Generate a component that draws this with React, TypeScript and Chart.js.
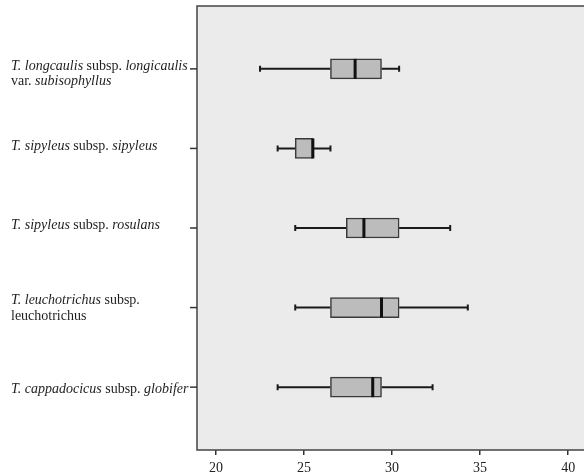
import { useEffect, useRef } from "react";
import { Chart, registerables } from "chart.js";

Chart.register(...registerables);

// ---- data ----
type Seg = [string, boolean]; // [text, italic]
const CATEGORY_LABELS: Seg[][][] = [
  [
    [["T. longcaulis", true], [" subsp. ", false], ["longicaulis", true]],
    [["var. ", false], ["subisophyllus", true]],
  ],
  [[["T. sipyleus", true], [" subsp. ", false], ["sipyleus", true]]],
  [[["T. sipyleus", true], [" subsp. ", false], ["rosulans", true]]],
  [
    [["T. leuchotrichus", true], [" subsp.", false]],
    [["leuchotrichus", false]],
  ],
  [[["T. cappadocicus", true], [" subsp. ", false], ["globifer", true]]],
];
const MINS = [22.5, 23.5, 24.5, 24.5, 23.5];
const Q1 = [26.5, 24.5, 27.4, 26.5, 26.5];
const MEDIANS = [27.9, 25.5, 28.4, 29.4, 28.9];
const Q3 = [29.4, 25.5, 30.4, 30.4, 29.4];
const MAXS = [30.4, 26.5, 33.3, 34.3, 32.3];
const X_TICKS = [20, 25, 30, 35, 40];

// ---- layout / style ----
const LABEL_DY = [-3, -2, -3, -7, 2];
const LINE_H = 15.5;
const FONT = "'Liberation Serif', 'Times New Roman', serif";

const boxPlugin = {
  id: "boxPlugin",
  beforeDraw(chart: any) {
    const { ctx, chartArea } = chart;
    ctx.save();
    ctx.fillStyle = "#ebebeb";
    ctx.fillRect(chartArea.left, chartArea.top, chartArea.right - chartArea.left, chartArea.bottom - chartArea.top);
    ctx.restore();
  },
  beforeDatasetsDraw(chart: any) {
    const { ctx } = chart;
    const xs = chart.scales.x;
    const ys = chart.scales.y;
    ctx.save();
    ctx.strokeStyle = "#1a1a1a";
    ctx.lineWidth = 2;
    for (let i = 0; i < MINS.length; i++) {
      const y = ys.getPixelForValue(i);
      const xMin = xs.getPixelForValue(MINS[i]);
      const xQ1 = xs.getPixelForValue(Q1[i]);
      const xQ3 = xs.getPixelForValue(Q3[i]);
      const xMax = xs.getPixelForValue(MAXS[i]);
      ctx.beginPath();
      ctx.moveTo(xMin, y);
      ctx.lineTo(xQ1, y);
      ctx.moveTo(xQ3, y);
      ctx.lineTo(xMax, y);
      ctx.moveTo(xMin, y - 3);
      ctx.lineTo(xMin, y + 3);
      ctx.moveTo(xMax, y - 3);
      ctx.lineTo(xMax, y + 3);
      ctx.stroke();
    }
    ctx.restore();
  },
  afterDatasetsDraw(chart: any) {
    const { ctx, chartArea } = chart;
    const xs = chart.scales.x;
    const ys = chart.scales.y;
    ctx.save();
    // medians
    ctx.strokeStyle = "#111";
    ctx.lineWidth = 3;
    for (let i = 0; i < MEDIANS.length; i++) {
      const y = ys.getPixelForValue(i);
      const x = xs.getPixelForValue(MEDIANS[i]);
      ctx.beginPath();
      ctx.moveTo(x, y - 10);
      ctx.lineTo(x, y + 10);
      ctx.stroke();
    }
    // frame (left, top, bottom)
    ctx.strokeStyle = "#444";
    ctx.lineWidth = 1.5;
    ctx.beginPath();
    ctx.moveTo(chartArea.right + 2, chartArea.top);
    ctx.lineTo(chartArea.left, chartArea.top);
    ctx.lineTo(chartArea.left, chartArea.bottom);
    ctx.lineTo(chartArea.right + 2, chartArea.bottom);
    ctx.stroke();
    // y ticks + labels
    ctx.strokeStyle = "#333";
    ctx.fillStyle = "#1e1e1e";
    ctx.textBaseline = "middle";
    for (let i = 0; i < CATEGORY_LABELS.length; i++) {
      const y = ys.getPixelForValue(i);
      ctx.beginPath();
      ctx.moveTo(chartArea.left - 7, y);
      ctx.lineTo(chartArea.left, y);
      ctx.stroke();
      const lines = CATEGORY_LABELS[i];
      lines.forEach((line, li) => {
        let x = 11;
        const ly = y + LABEL_DY[i] + li * LINE_H;
        line.forEach(([text, italic]) => {
          ctx.font = `${italic ? "italic " : ""}14px ${FONT}`;
          ctx.fillText(text, x, ly);
          x += ctx.measureText(text).width;
        });
      });
    }
    ctx.restore();
  },
};

export default function App() {
  const ref = useRef<HTMLCanvasElement | null>(null);
  useEffect(() => {
    if (!ref.current) return;
    const chart = new Chart(ref.current, {
      type: "bar",
      data: {
        datasets: [
          {
            data: Q1.map((q, i) => ({ x: [q, Q3[i]], y: i })) as any,
            backgroundColor: "#bcbcbc",
            borderColor: "#3a3a3a",
            borderWidth: 1.5,
            borderSkipped: false,
            barThickness: 20,
          },
        ],
      },
      options: {
        indexAxis: "y",
        animation: false,
        responsive: false,
        layout: { padding: { left: 197, top: 6, right: 0, bottom: 0 } },
        plugins: { legend: { display: false }, tooltip: { enabled: false } },
        scales: {
          x: {
            type: "linear",
            position: "bottom",
            offset: false,
            min: 18.92,
            max: 40.9,
            afterBuildTicks: (s: any) => {
              s.ticks = X_TICKS.map((v) => ({ value: v }));
            },
            afterFit: (s: any) => {
              s.height = 26;
            },
            grid: { drawOnChartArea: false, drawTicks: true, tickLength: 5, color: "#333", lineWidth: 1.5, offset: false },
            border: { display: false },
            ticks: { color: "#222", font: { family: FONT, size: 14 }, padding: 5, maxRotation: 0 },
          },
          y: {
            type: "linear",
            display: false,
            offset: false,
            grid: { offset: false },
            min: -0.79,
            max: 4.79,
            reverse: true,
          },
        },
      },
      plugins: [boxPlugin],
    });
    return () => chart.destroy();
  }, []);
  return (
    <div style={{ position: "absolute", left: 0, top: 0, width: 584, height: 476, background: "#fff" }}>
      <canvas ref={ref} width={584} height={476} style={{ display: "block" }} />
    </div>
  );
}
